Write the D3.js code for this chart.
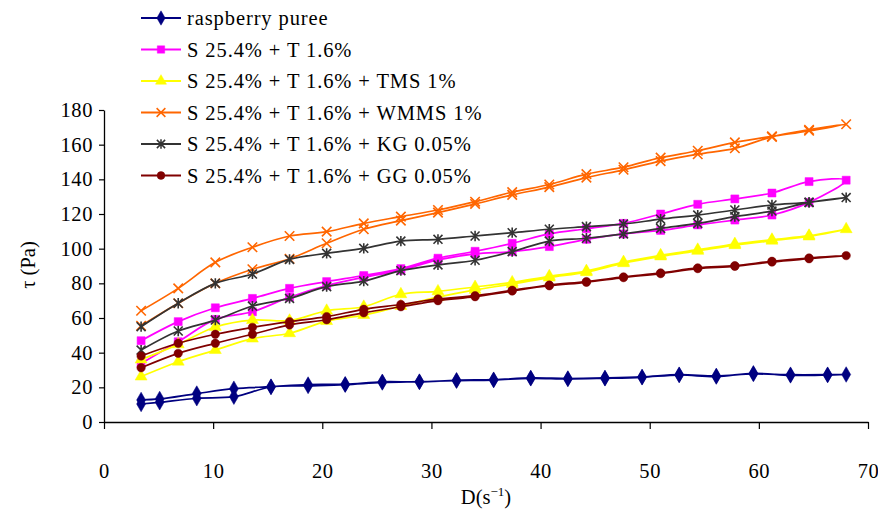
<!DOCTYPE html>
<html>
<head>
<meta charset="utf-8">
<script src="https://cdn.jsdelivr.net/npm/d3@7"></script>
<style>
    body { margin: 0; background: #fff; }
    svg text { font-family: 'Liberation Serif', 'Times New Roman', serif; fill: #000; }
</style>
</head>
<body>
<div class="flow_chart"></div>
<script>
// Shear rates (s^-1) for the formulated samples
const shearRate = [3.4, 6.8, 10.2, 13.6, 17, 20.4, 23.8, 27.2, 30.6, 34, 37.4, 40.8, 44.2, 47.6, 51, 54.4, 57.8, 61.2, 64.6, 68];
// Raspberry puree was measured on its own set of rates
const shearRatePuree = [3.4, 5.1, 8.5, 11.9, 15.3, 18.7, 22.1, 25.5, 28.9, 32.3, 35.7, 39.1, 42.5, 45.9, 49.3, 52.7, 56.1, 59.5, 62.9, 66.3, 68];

// Shear stress (Pa), upper and lower branch of each loop
const pureeUp = [12.7, 13.3, 16.4, 19.2, 20.4, 21.6, 21.8, 23.2, 23.1, 24.1, 24.4, 25.4, 25.1, 25.4, 26.0, 27.3, 26.6, 27.7, 27.3, 27.3, 27.4];
const pureeDown = [10.4, 11.4, 13.7, 14.6, 20.2, 20.8, 21.5, 22.8, 23.3, 23.8, 24.2, 25.2, 24.8, 25.2, 25.8, 27.1, 26.2, 28.1, 26.9, 27.1, 27.4];
const sUp = [46.9, 57.9, 65.9, 71.3, 77.1, 81.0, 84.5, 88.5, 94.5, 98.5, 103.1, 108.5, 111.5, 114.6, 120.0, 125.6, 128.7, 132.1, 138.7, 139.5];
const sDown = [33.8, 46.3, 59.2, 63.6, 72.0, 78.7, 83.5, 87.5, 93.5, 97.0, 98.3, 101.2, 105.4, 108.5, 110.5, 113.7, 116.5, 119.4, 126.7, 139.5];
const tmsUp = [36.0, 44.8, 54.8, 58.8, 58.5, 64.2, 66.5, 73.7, 75.4, 77.9, 80.6, 84.1, 87.1, 92.3, 96.2, 99.4, 102.7, 105.2, 107.5, 111.2];
const tmsDown = [26.2, 34.8, 41.5, 48.1, 51.2, 58.2, 61.7, 66.9, 72.0, 76.2, 79.6, 83.3, 86.4, 91.6, 95.5, 98.7, 102.0, 104.6, 107.0, 111.2];
const wmmsUp = [64.2, 77.1, 92.1, 100.8, 107.3, 109.8, 114.6, 118.5, 122.3, 127.1, 132.6, 137.0, 143.0, 147.0, 152.5, 156.5, 161.3, 164.8, 168.0, 171.8];
const wmmsDown = [55.5, 68.5, 80.0, 88.1, 94.2, 103.1, 111.2, 116.2, 120.8, 125.8, 131.0, 135.5, 141.0, 145.5, 150.5, 154.5, 157.9, 164.5, 168.6, 171.8];
const kgUp = [55.0, 68.5, 80.0, 85.4, 93.8, 97.3, 100.2, 104.4, 105.4, 107.3, 109.2, 111.2, 112.7, 114.2, 117.0, 119.4, 122.3, 125.2, 126.7, 129.5];
const kgDown = [41.5, 52.5, 58.8, 66.9, 71.3, 78.1, 81.3, 87.3, 90.6, 93.3, 98.3, 104.4, 106.0, 108.5, 111.7, 114.6, 118.5, 121.7, 126.7, 129.5];
const ggUp = [38.1, 45.4, 50.6, 54.6, 57.9, 60.8, 65.0, 67.8, 71.0, 72.9, 76.0, 79.0, 81.0, 83.7, 86.0, 88.9, 90.2, 92.7, 94.6, 96.0];
const ggDown = [31.3, 39.6, 45.4, 50.6, 56.0, 59.0, 63.0, 66.5, 70.0, 72.3, 75.6, 78.6, 80.6, 83.3, 85.6, 88.5, 89.8, 92.3, 94.2, 96.0];

const seriesNames = ['raspberry puree', 'S 25.4% + T 1.6%', 'S 25.4% + T 1.6% + TMS 1%',
    'S 25.4% + T 1.6% + WMMS 1%', 'S 25.4% + T 1.6% + KG 0.05%', 'S 25.4% + T 1.6% + GG 0.05%'];
const xTicks = [0, 10, 20, 30, 40, 50, 60, 70];
const yTicks = [0, 20, 40, 60, 80, 100, 120, 140, 160, 180];

// Custom stroked markers (x and star) so we don't depend on the d3 version
const symbolX = {
    draw(ctx, size) {
        let r = Math.sqrt(size) / 2;
        ctx.moveTo(-r, -r); ctx.lineTo(r, r);
        ctx.moveTo(r, -r); ctx.lineTo(-r, r);
    }
};
const symbolStar = {
    draw(ctx, size) {
        let r = Math.sqrt(size) / 2;
        ctx.moveTo(-r, -r); ctx.lineTo(r, r);
        ctx.moveTo(r, -r); ctx.lineTo(-r, r);
        ctx.moveTo(0, -r * 1.15); ctx.lineTo(0, r * 1.15);
    }
};

let series = [
    { rate: shearRatePuree, up: pureeUp, down: pureeDown, color: '#000080', sym: d3.symbolDiamond, size: 70, filled: true },
    { rate: shearRate, up: sUp, down: sDown, color: '#ff00ff', sym: d3.symbolSquare, size: 64, filled: true },
    { rate: shearRate, up: tmsUp, down: tmsDown, color: '#ffff00', sym: d3.symbolTriangle, size: 62, filled: true },
    { rate: shearRate, up: wmmsUp, down: wmmsDown, color: '#ff6600', sym: symbolX, size: 90, filled: false },
    { rate: shearRate, up: kgUp, down: kgDown, color: '#333333', sym: symbolStar, size: 80, filled: false },
    { rate: shearRate, up: ggUp, down: ggDown, color: '#800000', sym: d3.symbolCircle, size: 56, filled: true }
];
series.forEach((s, i) => { s.name = seriesNames[i]; });

// Set up the chart
let width = 878, height = 513,
    svg = d3.select('.flow_chart')
        .append('svg')
        .attr('width', width)
        .attr('height', height);

let x = d3.scaleLinear().domain([0, 70]).range([104, 868]),
    y = d3.scaleLinear().domain([0, 180]).range([422, 110]);

// Axes
svg.append('g')
    .attr('transform', 'translate(0,422)')
    .call(d3.axisBottom(x).tickValues(xTicks).tickSize(7).tickSizeOuter(0).tickPadding(34))
    .call(g => g.select('.domain').attr('stroke', '#000').attr('stroke-width', 1.3))
    .call(g => g.selectAll('.tick line').attr('stroke', '#000').attr('stroke-width', 1.2))
    .call(g => g.selectAll('.tick text').attr('font-size', 20.5).attr('font-family', null).attr('letter-spacing', 0.6));

svg.append('g')
    .attr('transform', 'translate(104,0)')
    .call(d3.axisLeft(y).tickValues(yTicks).tickSize(5).tickSizeOuter(0).tickPadding(6))
    .call(g => g.select('.domain').attr('stroke', '#000').attr('stroke-width', 1.3))
    .call(g => g.selectAll('.tick line').attr('stroke', '#000').attr('stroke-width', 1.2))
    .call(g => g.selectAll('.tick text').attr('font-size', 20.5).attr('font-family', null).attr('letter-spacing', 0.6));

// Axis titles
svg.append('text')
    .attr('x', 486).attr('y', 504)
    .attr('text-anchor', 'middle')
    .attr('font-size', 20.5)
    .html('D(s<tspan dy="-8" font-size="13">\u22121</tspan><tspan dy="8">)</tspan>');

svg.append('text')
    .attr('transform', 'translate(35,265) rotate(-90)')
    .attr('text-anchor', 'middle')
    .attr('font-size', 20.5)
    .text('\u03c4  (Pa)');

// Hysteresis loops: up the upper branch, back down the lower one
let line = d3.line()
    .x(d => x(d[0]))
    .y(d => y(d[1]))
    .curve(d3.curveCatmullRom.alpha(0.5));

series.forEach((s) => {
    let upPts = s.rate.map((r, i) => [r, s.up[i]]),
        downPts = s.rate.map((r, i) => [r, s.down[i]]),
        last = s.rate.length - 1;
    if (s.up[last] === s.down[last]) downPts.pop();
    let loop = upPts.concat(downPts.slice().reverse());

    let g = svg.append('g').attr('class', 'series');
    g.append('path')
        .attr('d', line(loop))
        .attr('fill', 'none')
        .attr('stroke', s.color)
        .attr('stroke-width', 1.7);

    g.selectAll('.marker')
        .data(upPts.concat(downPts))
        .enter().append('path')
        .attr('class', 'marker')
        .attr('transform', d => 'translate(' + x(d[0]) + ',' + y(d[1]) + ')')
        .attr('d', d3.symbol().type(s.sym).size(s.size))
        .attr('fill', s.filled ? s.color : 'none')
        .attr('stroke', s.color)
        .attr('stroke-width', s.filled ? 0.5 : 1.6);
});

// Legend
let legend = svg.append('g').attr('class', 'legend'),
    rowY = [18, 49.5, 81, 112.5, 144, 175.5];

series.forEach((s, i) => {
    let row = legend.append('g').attr('transform', 'translate(0,' + rowY[i] + ')');
    row.append('line')
        .attr('x1', 141).attr('x2', 181)
        .attr('stroke', s.color)
        .attr('stroke-width', 1.8);
    row.append('path')
        .attr('transform', 'translate(161,0)')
        .attr('d', d3.symbol().type(s.sym).size(s.size * 0.85))
        .attr('fill', s.filled ? s.color : 'none')
        .attr('stroke', s.color)
        .attr('stroke-width', s.filled ? 0.5 : 1.5);
    row.append('text')
        .attr('x', 187).attr('y', 0)
        .attr('dy', '0.35em')
        .attr('font-size', 20.5)
        .attr('letter-spacing', 0.9)
        .text(s.name);
});
</script>
</body>
</html>
